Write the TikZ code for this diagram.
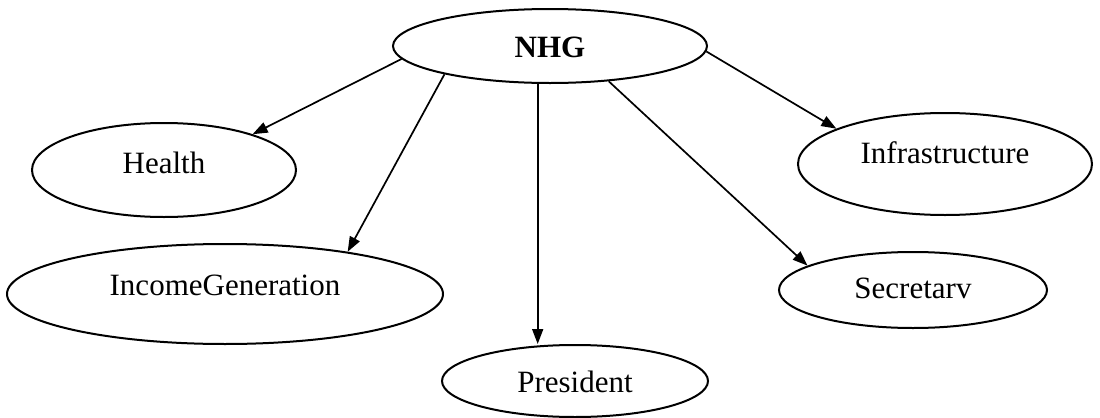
\documentclass[tikz,border=0pt]{standalone}
\usepackage{fontspec}
\setmainfont{Liberation Serif}
\usetikzlibrary{shapes.geometric,arrows.meta}
% label text with its baseline set at a fixed offset from the ellipse centre
\newcommand{\ovaltext}[2]{\raisebox{#1}[0pt][0pt]{#2}}
\begin{document}
\begin{tikzpicture}[x=0.5pt,y=-0.5pt,
  oval/.style={draw,ellipse,line width=1pt,inner sep=0pt,
    font=\fontsize{15.5}{18}\selectfont},
  link/.style={line width=0.85pt,-{Triangle[length=7.5pt,width=5.5pt]}}]
\useasboundingbox (0,0) rectangle (1100,418);
% group node and its five units
\node[oval,minimum width=157pt,minimum height=37pt,font=\fontsize{15.5}{18}\selectfont\bfseries] (nhg) at (550,46) {\ovaltext{-5.5pt}{NHG}};
\node[oval,minimum width=132pt,minimum height=47pt] (health) at (164,170) {\ovaltext{-1.5pt}{Health}};
\node[oval,minimum width=218pt,minimum height=50pt] (income) at (225,294) {\ovaltext{-0.5pt}{IncomeGeneration}};
\node[oval,minimum width=133pt,minimum height=36pt] (pres) at (575,381) {\ovaltext{-5.5pt}{President}};
\node[oval,minimum width=134pt,minimum height=38pt] (sec) at (913,290) {\ovaltext{-4pt}{Secretarv}};
\node[oval,minimum width=147pt,minimum height=51pt] (infra) at (945,164) {\ovaltext{0.5pt}{Infrastructure}};
% links from the group to each unit
\draw[link] (nhg.185) -- (health.22);
\draw[link] (nhg.195) -- (income.19);
\draw[link] (nhg.252) -- (nhg.252 |- pres.north);
\draw[link] (nhg.329) -- (sec.167);
\draw[link] (nhg.358) -- (infra.162);
\end{tikzpicture}
\end{document}
